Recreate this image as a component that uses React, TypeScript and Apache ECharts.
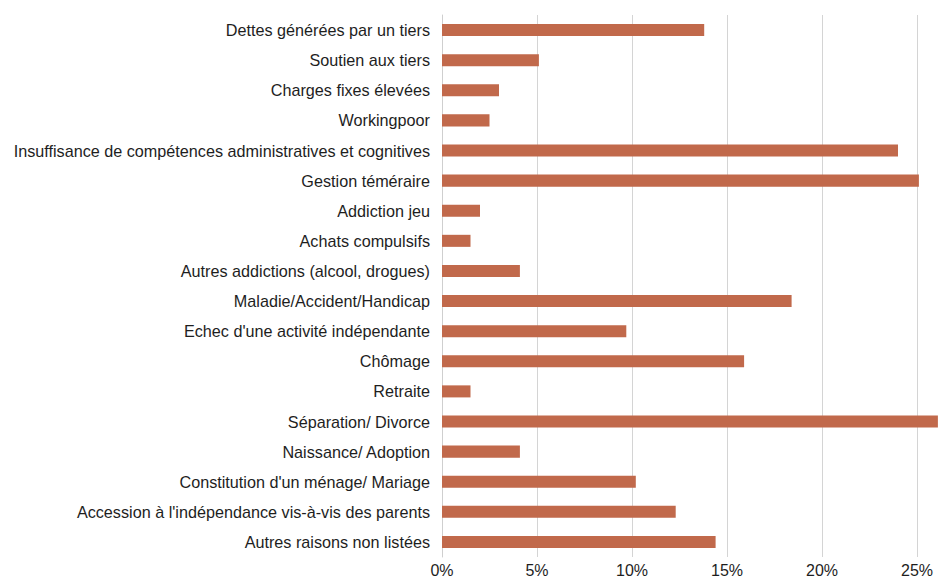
import React, { useEffect, useRef } from "react";
import * as echarts from "echarts";

const categories = [
  "Dettes générées par un tiers",
  "Soutien aux tiers",
  "Charges fixes élevées",
  "Workingpoor",
  "Insuffisance de compétences administratives et cognitives",
  "Gestion téméraire",
  "Addiction jeu",
  "Achats compulsifs",
  "Autres addictions (alcool, drogues)",
  "Maladie/Accident/Handicap",
  "Echec d'une activité indépendante",
  "Chômage",
  "Retraite",
  "Séparation/ Divorce",
  "Naissance/ Adoption",
  "Constitution d'un ménage/ Mariage",
  "Accession à l'indépendance vis-à-vis des parents",
  "Autres raisons non listées",
];

const values = [
  13.8, 5.1, 3.0, 2.5, 24.0, 25.1, 2.0, 1.5, 4.1, 18.4, 9.7, 15.9, 1.5, 26.1, 4.1, 10.2, 12.3, 14.4,
];

const xTicks = [0, 5, 10, 15, 20, 25];

export default function App() {
  const ref = useRef<HTMLDivElement>(null);
  useEffect(() => {
    if (!ref.current) return;
    const chart = echarts.init(ref.current, null, { renderer: "svg" });
    chart.setOption({
      animation: false,
      textStyle: { fontFamily: "Liberation Sans, Arial, sans-serif" },
      grid: { left: 442, right: 32, top: 15, bottom: 16, containLabel: false },
      xAxis: {
        type: "value",
        min: xTicks[0],
        max: xTicks[xTicks.length - 1],
        interval: 5,
        axisLine: { show: false },
        axisTick: { show: false },
        axisLabel: {
          formatter: (v: number) => `${v}%`,
          color: "#1e1e1e",
          fontSize: 16,
          margin: 5,
        },
        splitLine: { show: true, lineStyle: { color: "#d4d4d4", width: 1 } },
      },
      yAxis: {
        type: "category",
        inverse: true,
        data: categories,
        axisLine: { show: true, lineStyle: { color: "#cfcfcf", width: 1 } },
        axisTick: { show: false },
        axisLabel: { color: "#1e1e1e", fontSize: 16.2, margin: 12 },
      },
      series: [
        {
          type: "bar",
          data: values,
          barWidth: "40%",
          clip: false,
          itemStyle: { color: "#C1694B" },
        },
      ],
    });
    return () => chart.dispose();
  }, []);
  return <div ref={ref} style={{ width: 949, height: 578, position: "absolute", left: 0, top: 0 }} />;
}
